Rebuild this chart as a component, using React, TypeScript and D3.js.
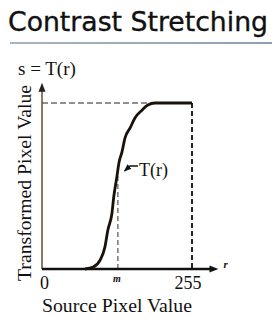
import React from "react";
import * as d3 from "d3";

const curveR = [73, 87, 99, 107, 112, 119, 122, 127, 131, 136, 141, 150, 158, 170, 180, 192, 255];
const curveS = [0, 3, 14, 34, 60, 86, 111, 140, 164, 180, 201, 217, 232, 244, 252, 255, 255];
const markR = 129;
const maxVal = 255;
const xTickLabels = ["0", "255"];
const titleText = "Contrast Stretching";
const yTitle = "Transformed Pixel Value";
const xTitle = "Source Pixel Value";
const fnLabel = "s = T(r)";
const curveLabel = "T(r)";

export default function App() {
  const W = 276, H = 331;
  const x = d3.scaleLinear().domain([0, maxVal]).range([42, 192]);
  const y = d3.scaleLinear().domain([0, maxVal]).range([269, 103]);
  const pts: [number, number][] = curveR.map((r, i) => [r, curveS[i]]);
  const line = d3.line<[number, number]>().x(d => x(d[0])).y(d => y(d[1])).curve(d3.curveMonotoneX);
  const xAxisEnd = x(300);
  const yAxisTop = y(286);
  const interp = d3.scaleLinear().domain(curveR).range(curveS);
  const markS = interp(markR);
  const serif = "'Liberation Serif', 'Times New Roman', serif";
  return (
    <svg width={W} height={H} style={{ position: "absolute", left: 0, top: 0, background: "#fff" }}>
      <defs>
        <linearGradient id="ul" x1="0" x2="1">
          <stop offset="0" stopColor="#a9b4c2" />
          <stop offset="1" stopColor="#8fa0b5" />
        </linearGradient>
        <marker id="ah" viewBox="0 0 10 10" refX="9" refY="5" markerWidth="5" markerHeight="5" orient="auto">
          <path d="M0,1 L10,5 L0,9 Z" fill="#111" />
        </marker>
      </defs>
      <text x={8} y={31} fontFamily="'DejaVu Sans', Verdana, sans-serif" fontSize={26} fill="#111" stroke="#111" strokeWidth={0.35} textLength={260} lengthAdjust="spacingAndGlyphs">{titleText}</text>
      <rect x={10} y={42} width={262} height={2} fill="url(#ul)" />
      <text x={18} y={75} fontFamily={serif} fontSize={19} fill="#111">{fnLabel}</text>
      <text transform={`translate(31,${183}) rotate(-90)`} textAnchor="middle" fontFamily={serif} fontSize={18} fill="#111" textLength={196} lengthAdjust="spacingAndGlyphs">{yTitle}</text>
      <line x1={x(0)} x2={x(maxVal)} y1={y(maxVal)} y2={y(maxVal)} stroke="#222" strokeWidth={1.2} strokeDasharray="6,3" />
      <line x1={x(maxVal)} x2={x(maxVal)} y1={y(maxVal)} y2={y(0)} stroke="#222" strokeWidth={2} strokeDasharray="5,3" />
      <line x1={x(markR)} x2={x(markR)} y1={y(0)} y2={y(markS)} stroke="#555" strokeWidth={1.2} strokeDasharray="5,3" />
      <line x1={x(0)} x2={x(0)} y1={y(0)} y2={yAxisTop + 6} stroke="#6b4a2e" strokeWidth={1.5} />
      <path d={`M${x(0)},${yAxisTop} L${x(0) - 3.5},${yAxisTop + 9} L${x(0) + 3.5},${yAxisTop + 9} Z`} fill="#222" />
      <line x1={x(0)} x2={xAxisEnd - 6} y1={y(0)} y2={y(0)} stroke="#111" strokeWidth={2.5} />
      <path d={`M${xAxisEnd},${y(0)} L${xAxisEnd - 9},${y(0) - 3.5} L${xAxisEnd - 9},${y(0) + 3.5} Z`} fill="#111" />
      <text x={xAxisEnd + 5} y={y(0) - 1} fontFamily={serif} fontStyle="italic" fontWeight="bold" fontSize={11} fill="#111">r</text>
      <path d={line(pts) || ""} fill="none" stroke="#1a1208" strokeWidth={2.8} />
      <text x={139} y={176} fontFamily={serif} fontSize={18} fill="#111">{curveLabel}</text>
      <polyline points={`138,166 130,166 124.5,171`} fill="none" stroke="#111" strokeWidth={1.5} markerEnd="url(#ah)" />
      <text x={x(0)} y={289} textAnchor="start" dx={-2} fontFamily={serif} fontSize={18} fill="#111">{xTickLabels[0]}</text>
      <text x={x(maxVal) - 4} y={289} textAnchor="middle" fontFamily={serif} fontSize={18} fill="#111">{xTickLabels[1]}</text>
      <text x={x(markR) - 1} y={282} textAnchor="middle" fontFamily={serif} fontStyle="italic" fontWeight="bold" fontSize={10} fill="#111">m</text>
      <text x={117} y={312} textAnchor="middle" fontFamily={serif} fontSize={18} fill="#111" textLength={150} lengthAdjust="spacingAndGlyphs">{xTitle}</text>
    </svg>
  );
}
